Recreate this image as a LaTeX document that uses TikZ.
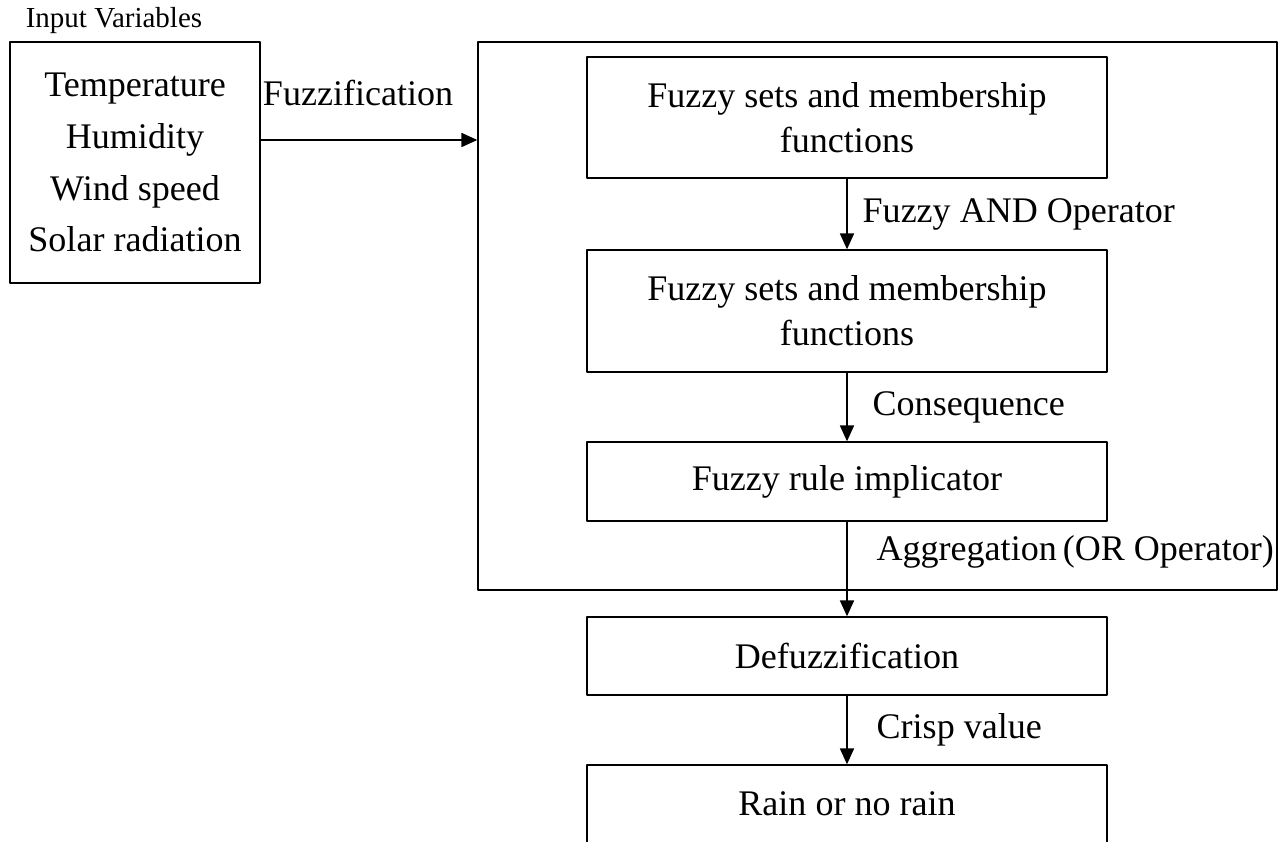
\documentclass[tikz,border=0pt]{standalone}
\usepackage{fontspec}
\setmainfont{Liberation Serif}
\usetikzlibrary{arrows.meta,positioning}
\begin{document}
\begin{tikzpicture}[font=\fontsize{20.5}{25.5}\selectfont, line join=round, line width=0.8pt,
		>={Triangle[length=9pt,width=8pt]},
		blk/.style={draw, minimum width=10.4cm, align=center, inner sep=0pt},
		lab/.style={inner sep=0pt, anchor=west}]
		\useasboundingbox (0,0) rectangle (25.56,-16.84);
		% inputs
		\node (title) [font=\fontsize{16.5}{20}\selectfont] at (2.28,-0.42) {Input Variables};
		\node (input) [draw, minimum width=5cm, minimum height=4.82cm, align=center,
			font=\fontsize{20.5}{29.5}\selectfont] at (2.7,-3.25)
			{Temperature\\Humidity\\Wind speed\\Solar radiation};
		% inference engine
		\node (engine) [draw, minimum width=15.98cm, minimum height=10.96cm] at (17.55,-6.32) {};
		\node (sets) [blk, minimum height=2.42cm] at (16.94,-2.35) {Fuzzy sets and membership\\functions};
		\node (sets2) [blk, minimum height=2.44cm] at (16.94,-6.22) {Fuzzy sets and membership\\functions};
		\node (rule) [blk, minimum height=1.58cm] at (16.94,-9.63) {Fuzzy rule implicator};
		\node (defuzz) [blk, minimum height=1.56cm] at (16.94,-13.12) {Defuzzification};
		\node (out) [blk, minimum height=1.56cm] at (16.94,-16.08) {Rain or no rain};
		% arrows
		\coordinate (fz) at (0,-2.8);
		\draw[->] (input.east |- fz) -- (engine.west |- fz)
			node[midway, above=0.66cm, inner sep=0pt, xshift=-0.22cm] {Fuzzification};
		\draw[->] (sets) -- (sets2) node[lab, midway, xshift=0.3cm] {Fuzzy AND Operator};
		\draw[->] (sets2) -- (rule) node[lab, midway, xshift=0.5cm] {Consequence};
		\draw[->] (rule) -- (defuzz) node[lab, midway, xshift=0.58cm, yshift=0.34cm] {Aggregation\,(OR Operator)};
		\draw[->] (defuzz) -- (out) node[lab, midway, xshift=0.58cm] {Crisp value};
	\end{tikzpicture}
\end{document}
